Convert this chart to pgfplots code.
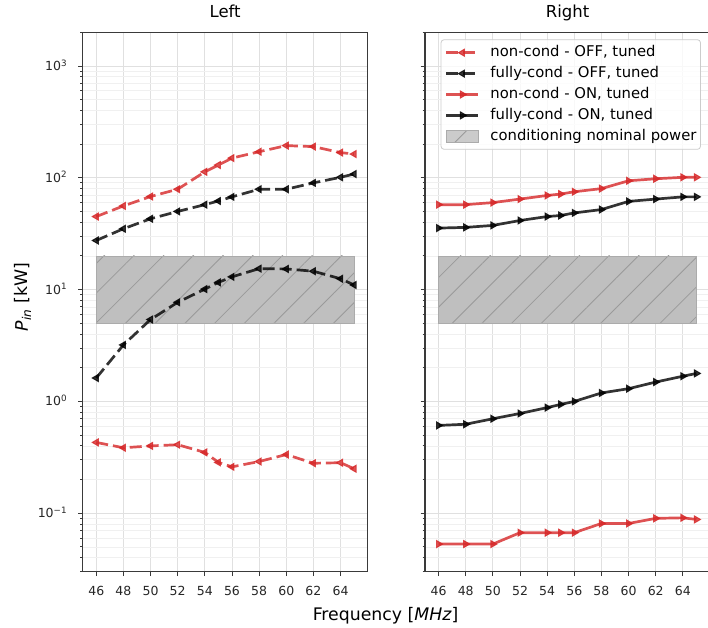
\documentclass[border=0pt]{standalone}
\usepackage{fontspec}
\setmainfont{DejaVu Sans}
\usepackage{pgfplots}
\pgfplotsset{compat=1.18}
\usetikzlibrary{patterns.meta}
\definecolor{myred}{HTML}{D62728}
\definecolor{spine}{HTML}{3A3A3A}
\definecolor{rectfill}{HTML}{BFBFBF}
\definecolor{rectedge}{HTML}{ABABAB}
\definecolor{hatchc}{HTML}{9A9A9A}

\tikzset{
  offred/.style={myred, opacity=0.8, line width=2.7pt, dash pattern=on 12pt off 5pt, mark=triangle*, mark size=4pt, mark options={rotate=90, solid, line width=1pt}},
  offblack/.style={black, opacity=0.8, line width=2.7pt, dash pattern=on 12pt off 5pt, mark=triangle*, mark size=4pt, mark options={rotate=90, solid, line width=1pt}},
  onred/.style={myred, opacity=0.8, line width=2.7pt, solid, mark=triangle*, mark size=4pt, mark options={rotate=-90, solid, line width=1pt}},
  onblack/.style={black, opacity=0.8, line width=2.7pt, solid, mark=triangle*, mark size=4pt, mark options={rotate=-90, solid, line width=1pt}},
  rectstyle/.style={fill=rectfill, draw=rectedge, line width=0.8pt, postaction={pattern={Lines[angle=45, distance=21pt, line width=0.8pt]}, pattern color=hatchc}},
}
\pgfplotsset{
  rectlegend/.style={legend image code/.code={\draw[rectstyle, rounded corners=0pt] (0pt,-6pt) rectangle (32pt,6pt);}},
  panelstyle/.style={
    scale only axis, width=285pt, height=539.4pt,
    xmin=45, xmax=66, ymin=0.03, ymax=2000,
    xtick={46,48,...,64},
    ytick={0.1,1,10,100,1000},
    minor ytick={0.03,0.04,0.05,0.06,0.07,0.08,0.09,0.2,0.3,0.4,0.5,0.6,0.7,0.8,0.9,2,3,4,5,6,7,8,9,20,30,40,50,60,70,80,90,200,300,400,500,600,700,800,900,2000},
    tick pos=left, tick align=outside,
    major tick length=4.4pt, minor tick length=2.5pt,
    every tick/.style={spine, line width=0.9pt},
    grid=both,
    major grid style={black!12, line width=0.8pt},
    minor grid style={black!6, line width=0.8pt},
    axis line style={spine, line width=1.2pt},
    /pgf/number format/assume math mode=true,
    ticklabel style={font=\fontsize{12.5}{14}\selectfont, text=black!85, inner sep=0pt},
    xticklabel style={anchor=base, yshift=-19pt},
    yticklabel style={anchor=base east, xshift=-11pt, yshift=-4.5pt},
    title style={font=\fontsize{16.5}{18}\selectfont, at={(0.5,1)}, anchor=base, yshift=9pt},
  },
}

\begin{document}
\begin{tikzpicture}
\path[use as bounding box] (0pt,0pt) rectangle (708pt,627pt);

\begin{semilogyaxis}[panelstyle, at={(82.7pt,55.3pt)}, anchor=south west, title={Left},
  yticklabels={10\textsuperscript{−1},10\textsuperscript{0},10\textsuperscript{1},10\textsuperscript{2},10\textsuperscript{3}}]
\addplot[rectstyle] coordinates {(46,5) (65,5) (65,20) (46,20)} -- cycle;
\addplot[offred] coordinates {(46,45) (48,56) (50,68) (52,79) (54,113) (55,130) (56,150) (58,171) (60,194) (62,190) (64,168) (65,163)};
\addplot[offblack] coordinates {(46,27.5) (48,35) (50,43) (52,50) (54,57.5) (55,62) (56,67.5) (58,79) (60,79) (62,90) (64,101) (65,108)};
\addplot[offblack] coordinates {(46,1.62) (48,3.2) (50,5.4) (52,7.7) (54,10.1) (55,11.6) (56,13) (58,15.4) (60,15.3) (62,14.6) (64,12.5) (65,11)};
\addplot[offred] coordinates {(46,0.43) (48,0.385) (50,0.40) (52,0.41) (54,0.35) (55,0.285) (56,0.26) (58,0.29) (60,0.335) (62,0.28) (64,0.283) (65,0.25)};
\end{semilogyaxis}

\begin{semilogyaxis}[panelstyle, at={(425pt,55.3pt)}, anchor=south west, title={Right},
  yticklabels={},
  legend cell align=left,
  legend style={at={(axis description cs:0.055,0.987)}, anchor=north west,
    draw=black!20, line width=0.8pt, rounded corners=3pt,
    fill=white, fill opacity=0.8, draw opacity=1, text opacity=1,
    font=\fontsize{14.8}{17}\selectfont,
    inner xsep=4pt, inner ysep=6pt, row sep=6.9pt,
    nodes={inner xsep=0pt, inner ysep=0pt, text height=11pt, text depth=3pt},
    /tikz/every odd column/.append style={column sep=10.7pt}},
  legend image code/.code={\draw[mark repeat=2, mark phase=2, rounded corners=0pt, #1] plot coordinates {(0pt,0pt) (16pt,0pt) (32pt,0pt)};}]
\addplot[rectstyle, forget plot] coordinates {(46,5) (65,5) (65,20) (46,20)} -- cycle;
\addplot[onred, forget plot] coordinates {(46,57.5) (48,57.5) (50,60) (52,64.5) (54,69.5) (55,71.5) (56,75) (58,80) (60,94) (62,98) (64,101) (65,101)};
\addplot[onblack, forget plot] coordinates {(46,35.5) (48,36) (50,37.5) (52,41.5) (54,45) (55,46) (56,48.5) (58,52) (60,61.5) (62,64.5) (64,67.5) (65,67.5)};
\addplot[onblack, forget plot] coordinates {(46,0.61) (48,0.625) (50,0.70) (52,0.78) (54,0.88) (55,0.94) (56,1.0) (58,1.19) (60,1.30) (62,1.49) (64,1.68) (65,1.78)};
\addplot[onred, forget plot] coordinates {(46,0.053) (48,0.053) (50,0.053) (52,0.067) (54,0.067) (55,0.067) (56,0.067) (58,0.081) (60,0.081) (62,0.090) (64,0.091) (65,0.088)};
\addlegendimage{offred}
\addlegendentry{non-cond - OFF, tuned}
\addlegendimage{offblack}
\addlegendentry{fully-cond - OFF, tuned}
\addlegendimage{onred}
\addlegendentry{non-cond - ON, tuned}
\addlegendimage{onblack}
\addlegendentry{fully-cond - ON, tuned}
\addlegendimage{rectlegend}
\addlegendentry{conditioning nominal power}
\end{semilogyaxis}

\node[font=\fontsize{17.3}{20}\selectfont, anchor=base] at (385.6pt,7pt) {Frequency [\textit{MHz}]};
\node[font=\fontsize{17.3}{20}\selectfont, rotate=90] at (23pt,330pt) {\textit{P}\textsubscript{\textit{in}} [kW]};
\end{tikzpicture}
\end{document}
